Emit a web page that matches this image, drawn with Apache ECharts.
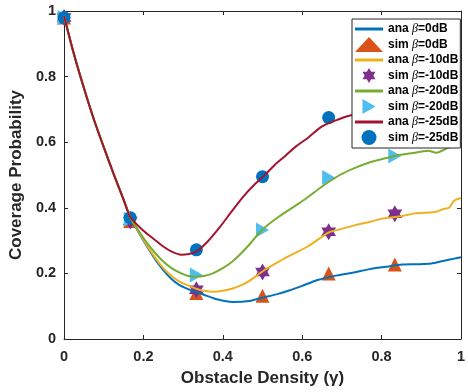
<!DOCTYPE html>
<html>
<head>
<meta charset="utf-8">
<script src="https://cdn.jsdelivr.net/npm/echarts@6/dist/echarts.min.js"></script>
<style>
  html, body { margin: 0; padding: 0; background: #fff; }
  #chart { width: 468px; height: 392px; }
</style>
</head>
<body>
<div id="chart"></div>
<script>
// Simulation sample points (obstacle density gamma)
const gammaSim = [0, 1/6, 1/3, 1/2, 2/3, 5/6];
const simB0   = [0.98, 0.36, 0.14, 0.132, 0.200, 0.227];
const simB10  = [0.98, 0.36, 0.15, 0.204, 0.327, 0.382];
const simB20  = [0.98, 0.365, 0.195, 0.332, 0.492, 0.558];
const simB25  = [0.98, 0.37, 0.272, 0.495, 0.675, 0.722];

// Analytical curves: common low-density segment
const headX = [0, 0.025, 0.05, 0.075, 0.1, 0.125, 0.15];
const headY = [0.985, 0.868, 0.765, 0.67, 0.585, 0.503, 0.425];

// beta = 0 dB
const anaB0X = [0.167, 0.2, 0.229, 0.25, 0.27, 0.29, 0.311, 0.333, 0.352, 0.38, 0.425, 0.467, 0.5, 0.535, 0.565, 0.6, 0.639, 0.688, 0.73, 0.77, 0.81, 0.852, 0.89, 0.925, 0.955, 0.983, 1.0];
const anaB0Y = [0.372, 0.3, 0.244, 0.21, 0.184, 0.165, 0.153, 0.143, 0.135, 0.123, 0.113, 0.116, 0.126, 0.136, 0.147, 0.162, 0.18, 0.194, 0.203, 0.213, 0.22, 0.227, 0.228, 0.23, 0.238, 0.245, 0.249];

// beta = -10 dB
const anaB10X = [0.167, 0.2, 0.229, 0.25, 0.27, 0.29, 0.311, 0.333, 0.352, 0.377, 0.4, 0.425, 0.447, 0.467, 0.499, 0.53, 0.565, 0.614, 0.667, 0.688, 0.737, 0.77, 0.801, 0.852, 0.884, 0.934, 0.958, 0.97, 0.983, 1.0];
const anaB10Y = [0.372, 0.303, 0.249, 0.216, 0.193, 0.176, 0.164, 0.153, 0.147, 0.144, 0.147, 0.154, 0.164, 0.177, 0.205, 0.228, 0.252, 0.282, 0.325, 0.332, 0.348, 0.357, 0.367, 0.375, 0.383, 0.387, 0.397, 0.4, 0.422, 0.43];

// beta = -20 dB
const anaB20X = [0.167, 0.2, 0.229, 0.25, 0.27, 0.29, 0.311, 0.333, 0.352, 0.376, 0.4, 0.425, 0.447, 0.467, 0.499, 0.54, 0.59, 0.614, 0.65, 0.695, 0.73, 0.769, 0.8, 0.835, 0.875, 0.917, 0.938, 0.966, 0.985, 1.0];
const anaB20Y = [0.372, 0.308, 0.263, 0.236, 0.217, 0.203, 0.193, 0.19, 0.192, 0.201, 0.216, 0.237, 0.262, 0.288, 0.333, 0.372, 0.412, 0.432, 0.465, 0.5, 0.52, 0.538, 0.548, 0.559, 0.566, 0.574, 0.568, 0.582, 0.59, 0.605];

// beta = -25 dB
const anaB25X = [0.167, 0.2, 0.229, 0.25, 0.27, 0.295, 0.315, 0.333, 0.36, 0.393, 0.42, 0.45, 0.475, 0.504, 0.53, 0.558, 0.585, 0.614, 0.646, 0.667, 0.688, 0.713, 0.75, 0.8, 0.85, 0.9, 0.95, 0.99, 1.0];
const anaB25Y = [0.372, 0.33, 0.302, 0.282, 0.267, 0.257, 0.259, 0.266, 0.295, 0.342, 0.385, 0.432, 0.465, 0.498, 0.53, 0.559, 0.588, 0.613, 0.645, 0.658, 0.668, 0.679, 0.69, 0.705, 0.717, 0.726, 0.731, 0.737, 0.745];

const axisTicks = [0, 0.2, 0.4, 0.6, 0.8, 1];

const FONT = "'Liberation Sans', Arial, Helvetica, sans-serif";
const INK = '#262626';

function pairs(xs, ys) { return xs.map((x, i) => [x, ys[i]]); }
function anaData(xs, ys) { return pairs(headX.concat(xs), headY.concat(ys)); }

const hexagram = 'path://M50 0L64.43 25L93.3 25L78.87 50L93.3 75L64.43 75L50 100L35.57 75L6.7 75L21.13 50L6.7 25L35.57 25Z';
const triRight = 'path://M0 0L87 50L0 100Z';
const lineIcon = 'path://M0 0L140 0L140 15L0 15Z';

function anaSeries(name, color, xs, ys) {
  return {
    name, type: 'line', data: anaData(xs, ys),
    symbol: 'none', showSymbol: false, smooth: 0.25,
    lineStyle: { color, width: 2 }, itemStyle: { color },
    xAxisIndex: 0, yAxisIndex: 0, animation: false
  };
}
function simSeries(name, color, ys, symbol, size) {
  return {
    name, type: 'scatter', data: pairs(gammaSim, ys),
    symbol, symbolSize: size, symbolKeepAspect: true,
    itemStyle: { color, opacity: 1 },
    xAxisIndex: 0, yAxisIndex: 0, animation: false
  };
}

const tickFormatter = v => {
  const t = axisTicks.find(a => Math.abs(a - v) < 1e-9);
  return t === undefined ? '' : String(t);
};

const baseAxis = {
  type: 'value', min: 0, max: 1, interval: 0.2,
  axisLine: { show: true, onZero: false, lineStyle: { color: INK, width: 1 } },
  axisTick: { show: true, inside: true, length: 4, lineStyle: { color: INK } },
  splitLine: { show: false }
};

const legendNames = ['ana β=0dB', 'sim β=0dB', 'ana β=-10dB', 'sim β=-10dB', 'ana β=-20dB', 'sim β=-20dB', 'ana β=-25dB', 'sim β=-25dB'];

const chart = echarts.init(document.getElementById('chart'), null, { renderer: 'canvas' });
chart.setOption({
  animation: false,
  backgroundColor: '#fff',
  grid: { left: 60, right: 1, top: 11, bottom: 48, containLabel: false },
  xAxis: [
    Object.assign({}, baseAxis, {
      position: 'bottom',
      axisLabel: { margin: 10, color: INK, fontSize: 14.5, fontWeight: 'bold', fontFamily: FONT, formatter: tickFormatter },
      name: 'Obstacle Density (γ)', nameLocation: 'middle', nameGap: 31,
      nameTextStyle: { color: INK, fontSize: 17, fontWeight: 'bold', fontFamily: FONT }
    }),
    Object.assign({}, baseAxis, { position: 'top', axisLabel: { show: false } })
  ],
  yAxis: [
    Object.assign({}, baseAxis, {
      position: 'left',
      axisLabel: { margin: 8, color: INK, fontSize: 14.5, fontWeight: 'bold', fontFamily: FONT, formatter: tickFormatter },
      name: 'Coverage Probability', nameLocation: 'middle', nameGap: 29,
      nameTextStyle: { color: INK, fontSize: 17, fontWeight: 'bold', fontFamily: FONT }
    }),
    Object.assign({}, baseAxis, { position: 'right', axisLabel: { show: false } })
  ],
  legend: {
    orient: 'vertical', left: 352, top: 19,
    padding: [4, 2, 3, 3], itemGap: 2, itemWidth: 28, itemHeight: 15,
    backgroundColor: '#fff', borderColor: INK, borderWidth: 1, borderRadius: 0,
    z: 10,
    textStyle: {
      color: '#000', fontSize: 12, fontWeight: 'bold', fontFamily: FONT,
      rich: {
        g: { fontSize: 12, fontStyle: 'italic', fontWeight: 'normal', fontFamily: "'Liberation Serif', 'DejaVu Serif', serif", color: '#000' }
      }
    },
    formatter: name => name.replace('β', '{g|β}'),
    data: legendNames.map(n => n.startsWith('ana') ? { name: n, icon: lineIcon } : { name: n })
  },
  series: [
    anaSeries('ana β=0dB', '#0072BD', anaB0X, anaB0Y),
    simSeries('sim β=0dB', '#D95319', simB0, 'triangle', 14),
    anaSeries('ana β=-10dB', '#EDB120', anaB10X, anaB10Y),
    simSeries('sim β=-10dB', '#7E2F8E', simB10, hexagram, 17),
    anaSeries('ana β=-20dB', '#77AC30', anaB20X, anaB20Y),
    simSeries('sim β=-20dB', '#4DBEEE', simB20, triRight, 15),
    anaSeries('ana β=-25dB', '#A2142F', anaB25X, anaB25Y),
    simSeries('sim β=-25dB', '#0072BD', simB25, 'circle', 13)
  ]
});
</script>
</body>
</html>
